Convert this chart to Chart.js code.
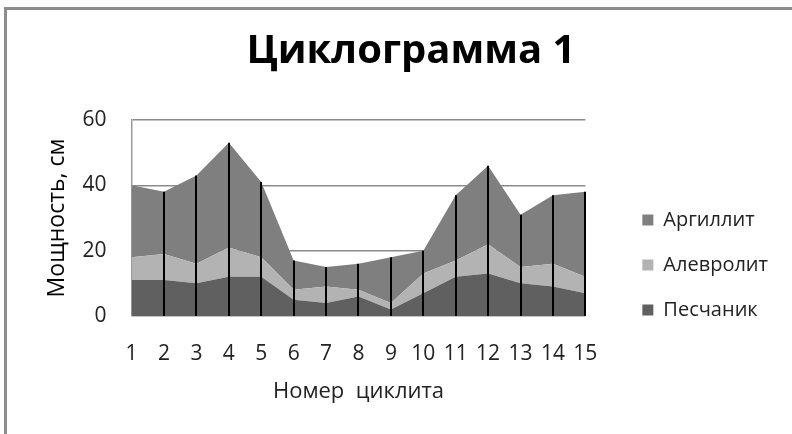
<!DOCTYPE html>
<html>
<head>
<meta charset="utf-8">
<script src="https://cdn.jsdelivr.net/npm/chart.js@4/dist/chart.umd.min.js"></script>
<style>
html,body{margin:0;padding:0;background:#fff;}
#wrap{position:relative;width:792px;height:434px;overflow:hidden;}
#frame{position:absolute;left:4px;top:7px;width:800px;height:440px;border-top:3px solid #8c8c8c;border-left:3px solid #8c8c8c;box-sizing:border-box;}
canvas{position:absolute;left:0;top:0;}
</style>
</head>
<body>
<div id="wrap"><div id="frame"></div><canvas id="c" width="792" height="434"></canvas></div>
<script>
const categories = ['1','2','3','4','5','6','7','8','9','10','11','12','13','14','15'];
const peschanik = [11, 11, 10, 12, 12, 5, 4, 6, 2, 7, 12, 13, 10, 9, 7];
const alevrolit = [7, 8, 6, 9, 6, 3, 5, 2, 2, 6, 5, 9, 5, 7, 5];
const argillit  = [22, 19, 27, 32, 23, 9, 6, 8, 14, 7, 20, 24, 16, 21, 26];
const seriesNames = ['Песчаник', 'Алевролит', 'Аргиллит'];
const yTicks = [0, 20, 40, 60];

const FONT = "'Open Sans', 'DejaVu Sans', sans-serif";

const dropLines = {
  id: 'dropLines',
  afterDatasetsDraw(chart) {
    const meta = chart.getDatasetMeta(2);
    const y0 = chart.scales.y.getPixelForValue(0);
    const ctx = chart.ctx;
    ctx.save();
    ctx.strokeStyle = '#000';
    ctx.lineWidth = 2;
    meta.data.forEach((pt, i) => {
      if (i === 0) return;
      ctx.beginPath();
      ctx.moveTo(Math.round(pt.x), pt.y);
      ctx.lineTo(Math.round(pt.x), y0);
      ctx.stroke();
    });
    ctx.restore();
  }
};

new Chart(document.getElementById('c'), {
  type: 'line',
  data: {
    labels: categories,
    datasets: [
      { label: seriesNames[0], data: peschanik, backgroundColor: '#606060', borderColor: '#606060', borderWidth: 0, fill: 'origin', pointRadius: 0, tension: 0 },
      { label: seriesNames[1], data: alevrolit, backgroundColor: '#b3b3b3', borderColor: '#b3b3b3', borderWidth: 0, fill: '-1', pointRadius: 0, tension: 0 },
      { label: seriesNames[2], data: argillit, backgroundColor: '#7f7f7f', borderColor: '#7f7f7f', borderWidth: 0, fill: '-1', pointRadius: 0, tension: 0 }
    ]
  },
  options: {
    responsive: false,
    animation: false,
    layout: { padding: { left: 44, right: 14, top: 0, bottom: 29 } },
    plugins: {
      title: { display: true, text: 'Циклограмма 1', color: '#000', font: { family: FONT, size: 40, weight: 'bold' }, padding: { top: 28, bottom: 44 } },
      legend: {
        position: 'right',
        reverse: true,
        maxWidth: 260,
        title: { display: true, text: '', font: { family: FONT, size: 10 }, padding: { top: 0, bottom: 113 } },
        labels: { color: '#222', font: { family: FONT, size: 20 }, boxWidth: 11, boxHeight: 11, padding: 25 }
      },
      tooltip: { enabled: false }
    },
    scales: {
      x: {
        offset: false,
        grid: { display: false, drawTicks: false },
        border: { display: false },
        ticks: { color: '#222', font: { family: FONT, size: 21 }, padding: 25, maxRotation: 0, autoSkip: false },
        title: { display: true, text: 'Номер  циклита', color: '#222', font: { family: FONT, size: 22 }, padding: { top: -12.6, bottom: 0 } }
      },
      y: {
        stacked: true,
        min: 0, max: 60,
        afterBuildTicks(axis) { axis.ticks = yTicks.map(v => ({ value: v })); },
        grid: { color: '#8a8a8a', lineWidth: 1.5, drawTicks: false },
        border: { display: true, color: '#9a9a9a', width: 1.5 },
        ticks: { color: '#222', font: { family: FONT, size: 21 }, padding: 25 },
        title: { display: true, text: 'Мощность, см', color: '#000', font: { family: FONT, size: 23 }, padding: { top: 0, bottom: -14 } }
      },
      gap: {
        type: 'linear',
        position: 'right',
        display: true,
        grid: { display: false, drawTicks: false },
        border: { display: false },
        ticks: { display: false },
        afterFit(axis) { axis.width = 32; }
      }
    }
  },
  plugins: [dropLines]
});
</script>
</body>
</html>
